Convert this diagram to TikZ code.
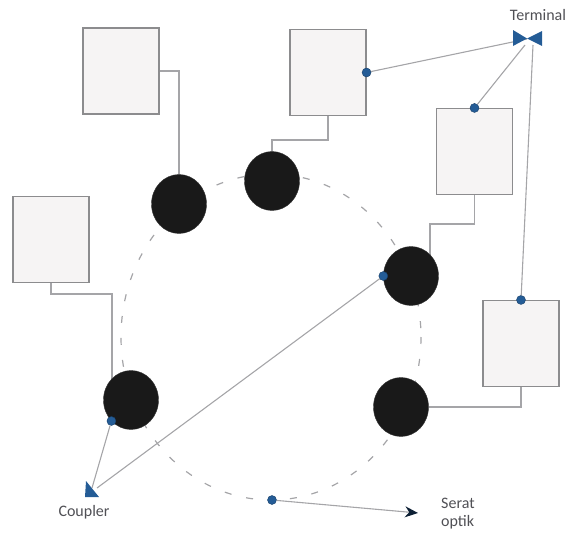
\documentclass[tikz,border=0pt]{standalone}
\usepackage{fontspec}
\setmainfont{Carlito}
\usetikzlibrary{shapes.geometric,arrows.meta}
\definecolor{wire}{RGB}{165,165,168}
\definecolor{boxline}{RGB}{140,140,142}
\definecolor{boxfill}{RGB}{246,244,244}
\definecolor{nodeblue}{RGB}{36,92,150}
\definecolor{labelgray}{RGB}{80,80,85}
\tikzset{
  station/.style={draw=boxline, fill=boxfill, line width=1.1pt,
    minimum width=76pt, minimum height=86pt, inner sep=0pt},
  tap/.style={ellipse, fill=black!90, draw=black!80,
    minimum width=55pt, minimum height=59pt, inner sep=0pt},
  port/.style={circle, fill=nodeblue, draw=nodeblue!70!black,
    minimum size=9pt, inner sep=0pt},
  wire/.style={draw=wire, line width=1.1pt},
  ring/.style={draw=wire, line width=1.2pt, dash pattern=on 7pt off 15pt},
  caption/.style={font=\fontsize{16}{18}\selectfont, text=labelgray, inner sep=0pt}
}
\begin{document}
\begin{tikzpicture}[x=1pt, y=-1pt]
\useasboundingbox (0,0) rectangle (568,538);

% stations
\node[station] (b1) at (121,71) {};
\node[station] (b2) at (328,72.5) {};
\node[station] (b3) at (474.5,151.5) {};
\node[station] (b4) at (521,343.5) {};
\node[station] (b5) at (51,239.5) {};

% dashed bus ring
\draw[ring] (271,337) ellipse [x radius=150, y radius=163];

% tap positions
\coordinate (pA) at (179,204);
\coordinate (pB) at (272,181);
\coordinate (pC) at (411,276);
\coordinate (pD) at (401,407);
\coordinate (pE) at (131,400);

% drop cables from stations to taps
\draw[wire] (b1.east) -| (pA);
\coordinate (k2) at (328,140);
\draw[wire] (b2.south) -- (k2) -| (pB);
\coordinate (k3) at (474.5,224);
\coordinate (k3b) at (430,224);
\draw[wire] (b3.south) -- (k3) -- (k3b) -- ++(0,40);
\draw[wire] (b4.south) |- (pD);
\coordinate (k5) at (51,294);
\coordinate (k5b) at (112,294);
\draw[wire] (b5.south) -- (k5) -- (k5b) -- ++(0,100);

% taps
\node[tap] (cA) at (pA) {};
\node[tap] (cB) at (pB) {};
\node[tap] (cC) at (pC) {};
\node[tap] (cD) at (pD) {};
\node[tap] (cE) at (pE) {};

% terminal and coupler
\coordinate (term) at (527,39);
\coordinate (termL) at (525,45);
\coordinate (termR) at (533,45);
\coordinate (coup) at (92,488);
\coordinate (coupR) at (97,488);

% ports
\node[port] (d1) at (b2.east) {};
\node[port] (d2) at (b3.north) {};
\node[port] (d3) at (b4.north) {};
\node[port] (d4) at (cC.west) {};
\node[port] (d5) at (cE.south west) {};
\node[port] (d6) at (272,500) {};

% signal lines
\draw[wire] (d1) -- (term);
\draw[wire] (d2) -- (termL);
\draw[wire] (d3) -- (termR);
\draw[wire] (d5) -- (coup);
\draw[wire] (d4) -- (coupR);
\coordinate (out) at (418,513);
\draw[wire, -{Stealth[length=13pt, width=11pt, fill=nodeblue!35!black, color=nodeblue!35!black]}] (d6) -- (out);

% terminal symbol (bow tie)
\fill[nodeblue] (513,30) -- (527,38.5) -- (513,46) -- cycle;
\fill[nodeblue] (542,31) -- (527,38.5) -- (542,46) -- cycle;

% coupler symbol
\fill[nodeblue] (86,481) -- (99,497) -- (85,497) -- cycle;

% labels
\node[caption] (tl) at (538,15) {Terminal};
\node[caption] (cl) at (84,512) {Coupler};
\node[caption, anchor=west] (sl1) at (441,503) {Serat};
\node[caption, anchor=west] (sl2) at (441,522) {optik};
\end{tikzpicture}
\end{document}
